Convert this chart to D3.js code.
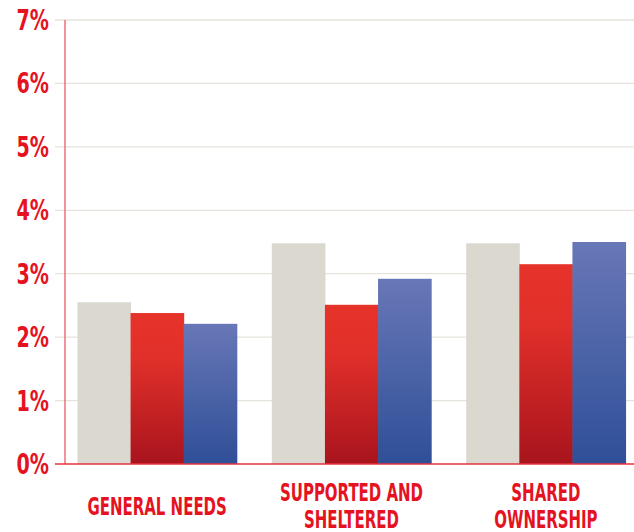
<!DOCTYPE html>
<html>
<head>
<meta charset="utf-8">
<script src="https://cdn.jsdelivr.net/npm/d3@7"></script>
<style>
  body { margin: 0; background: #fff; }
  svg { display: block; }
  .lbl { font-family: "DejaVu Sans Condensed", "DejaVu Sans", sans-serif; font-weight: bold; fill: #e5121f; }
</style>
</head>
<body>
<svg id="chart" width="634" height="532"></svg>
<script>
"use strict";

// categories, each label split in lines
var categories = ["General needs", "Supported and sheltered", "Shared ownership"];
var catLines = [["GENERAL NEEDS"], ["SUPPORTED AND", "SHELTERED"], ["SHARED", "OWNERSHIP"]];
var series = ["s1", "s2", "s3"];
// values in percent
var greyVals = [2.55, 3.48, 3.48];
var redVals = [2.38, 2.51, 3.15];
var blueVals = [2.21, 2.92, 3.50];
var yTicks = [0, 1, 2, 3, 4, 5, 6, 7];

var svg = d3.select("#chart");
var W = 634;

var y = d3.scaleLinear().domain([0, 7]).range([464, 20]);
var x0 = d3.scaleBand().domain(categories).range([58, 645]).paddingInner(0.18).paddingOuter(0.1);
var x1 = d3.scaleBand().domain(series).range([0, x0.bandwidth()]);

// gradients
var defs = svg.append("defs");
function grad(id, stops) {
  var g = defs.append("linearGradient").attr("id", id)
    .attr("x1", 0).attr("y1", 0).attr("x2", 0).attr("y2", 1);
  stops.forEach(function (s) {
    g.append("stop").attr("offset", s[0]).attr("stop-color", s[1]);
  });
}
grad("gRed", [[0, "#e6332a"], [0.3, "#e1302a"], [1, "#a8141d"]]);
grad("gBlue", [[0, "#6877b7"], [1, "#2f4f97"]]);

var fills = { s1: "#dbd8d0", s2: "url(#gRed)", s3: "url(#gBlue)" };

// grid lines
svg.append("g").selectAll("line")
  .data(yTicks.filter(function (d) { return d > 0; }))
  .enter().append("line")
  .attr("x1", 55).attr("x2", W)
  .attr("y1", function (d) { return y(d); })
  .attr("y2", function (d) { return y(d); })
  .attr("stroke", "#e5e3dc").attr("stroke-width", 1.3);

// bars
var rows = categories.map(function (c, i) {
  return { cat: c, vals: [greyVals[i], redVals[i], blueVals[i]] };
});
var grp = svg.append("g").selectAll("g").data(rows).enter().append("g")
  .attr("transform", function (d) { return "translate(" + x0(d.cat) + ",0)"; });
grp.selectAll("rect")
  .data(function (d) { return d.vals.map(function (v, j) { return { k: series[j], v: v }; }); })
  .enter().append("rect")
  .attr("x", function (d) { return x1(d.k); })
  .attr("width", x1.bandwidth() + 0.5)
  .attr("y", function (d) { return y(d.v); })
  .attr("height", function (d) { return y(0) - y(d.v); })
  .attr("fill", function (d) { return fills[d.k]; });

// axes lines
svg.append("line").attr("x1", 65).attr("x2", 65).attr("y1", y(7)).attr("y2", y(0))
  .attr("stroke", "#ec5a63").attr("stroke-width", 1.3);
svg.append("line").attr("x1", 55).attr("x2", W).attr("y1", y(0)).attr("y2", y(0))
  .attr("stroke", "#e8303c").attr("stroke-width", 1.5);

// y tick labels
svg.append("g").selectAll("text").data(yTicks).enter().append("text")
  .attr("class", "lbl")
  .attr("text-anchor", "end")
  .attr("font-size", 28)
  .attr("transform", function (d) { return "translate(49," + (y(d) + 10) + ") scale(0.76,1)"; })
  .text(function (d) { return d + "%"; });

// category labels
var cl = svg.append("g").selectAll("text").data(rows).enter().append("text")
  .attr("class", "lbl")
  .attr("text-anchor", "middle")
  .attr("font-size", 24.5)
  .attr("transform", function (d, i) {
    var top = catLines[i].length > 1 ? 501 : 515;
    return "translate(" + (x0(d.cat) + x0.bandwidth() / 2) + "," + top + ") scale(0.68,1)";
  });
cl.selectAll("tspan")
  .data(function (d, i) { return catLines[i]; })
  .enter().append("tspan")
  .attr("x", 0)
  .attr("dy", function (d, i) { return i === 0 ? 0 : 27; })
  .text(function (d) { return d; });
</script>
</body>
</html>
